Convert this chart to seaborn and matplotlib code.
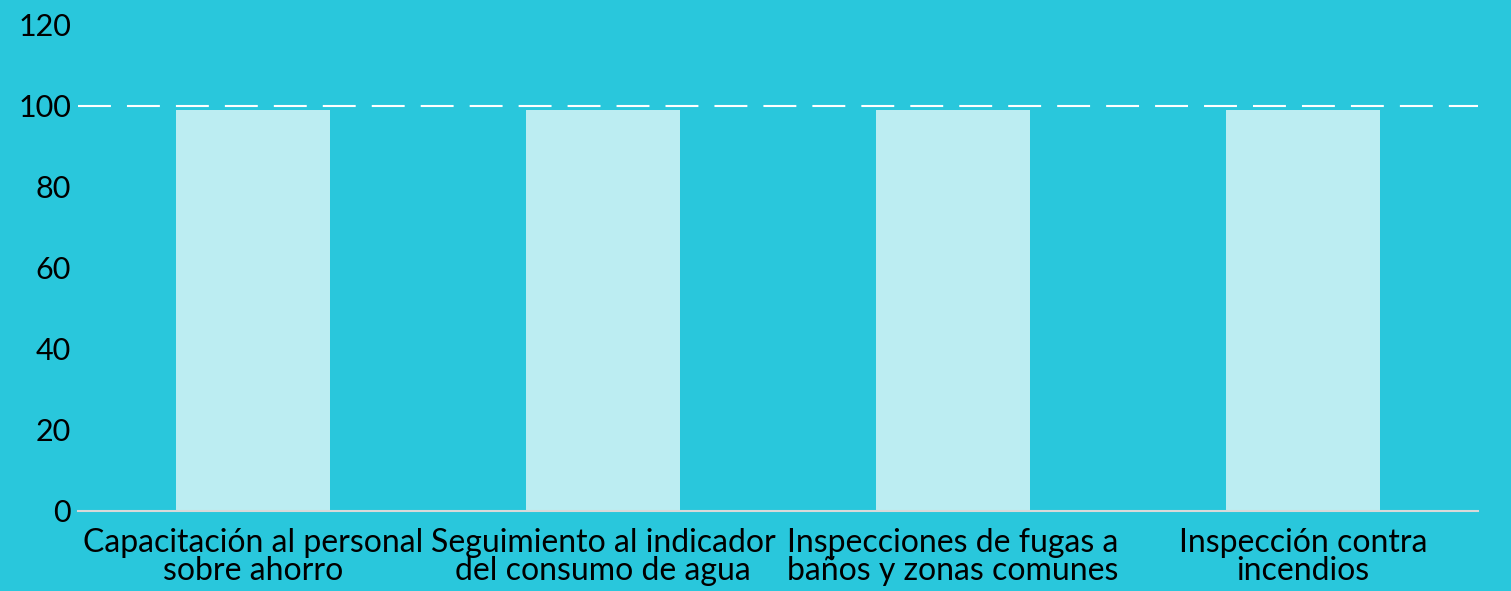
import matplotlib
matplotlib.use("Agg")
import matplotlib.pyplot as plt
import seaborn as sns
import pandas as pd

# Chart data
categories = [
    "Capacitación al personal\nsobre ahorro",
    "Seguimiento al indicador\ndel consumo de agua",
    "Inspecciones de fugas a\nbaños y zonas comunes",
    "Inspección contra\nincendios",
]
values = [99, 99, 99, 99]
target = 100
y_ticks = [0, 20, 40, 60, 80, 100, 120]

bg = "#29C7DC"
bar_color = "#BCEDF2"

sns.set_theme(style="white")
plt.rcParams["font.family"] = ["Lato", "DejaVu Sans"]

df = pd.DataFrame({"categoria": categories, "valor": values})

fig = plt.figure(figsize=(15.11, 5.91), dpi=100, facecolor=bg)
ax = fig.add_axes([0.0516, 0.1354, 0.9265, 0.8223])
ax.set_facecolor(bg)

sns.barplot(data=df, x="categoria", y="valor", color=bar_color, width=0.44,
            saturation=1, edgecolor="none", linewidth=0, ax=ax)

ax.axhline(target, color="white", linewidth=1.5, dashes=(15.8, 7.7), zorder=3)

ax.set_ylim(0, 120)
ax.set_yticks(y_ticks)
ax.set_xlabel("")
ax.set_ylabel("")
ax.tick_params(axis="both", length=0, colors="black")
ax.tick_params(axis="y", pad=5, labelsize=22)
ax.tick_params(axis="x", pad=12, labelsize=23)
for lab in ax.get_xticklabels():
    lab.set_linespacing(0.95)

for side in ["top", "right", "left"]:
    ax.spines[side].set_visible(False)
ax.spines["bottom"].set_color("#D9D9D9")
ax.spines["bottom"].set_linewidth(1.5)

fig.savefig("out.png", dpi=100, facecolor=bg)
